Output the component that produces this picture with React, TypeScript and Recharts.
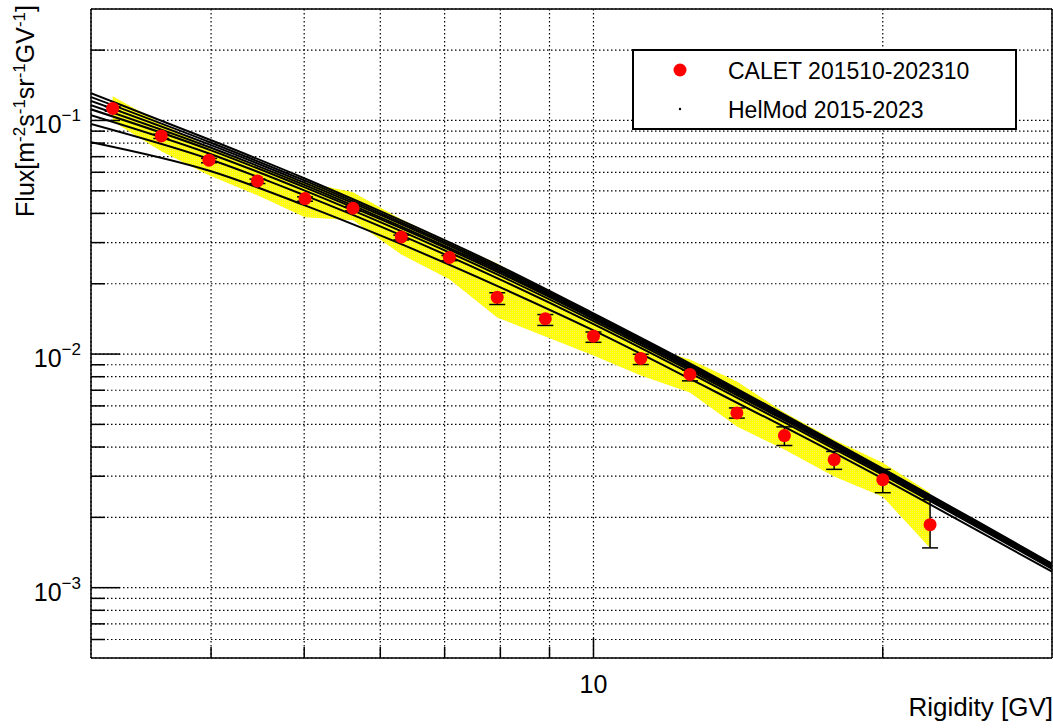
import React from 'react';
import {
  ComposedChart,
  Area,
  Line,
  Scatter,
  ErrorBar,
  XAxis,
  YAxis,
  CartesianGrid,
  ReferenceLine,
  Legend,
} from 'recharts';

const FONT = '"Liberation Sans", Arial, Helvetica, sans-serif';

// CALET 201510-202310, rigidity bin centres [GV]
const rigidity = [3.16, 3.55, 3.98, 4.47, 5.01, 5.62, 6.31, 7.08, 7.94, 8.91, 10.0, 11.2, 12.6, 14.1, 15.8, 17.8, 20.0, 22.4];
const calFlux = [0.1126, 0.0859, 0.0676, 0.0551, 0.0463, 0.0421, 0.0317, 0.0259, 0.0175, 0.01416, 0.01193, 0.00958, 0.00818, 0.0056, 0.00448, 0.00353, 0.0029, 0.00186];
const errLow = [0.003, 0.0022, 0.0017, 0.0014, 0.0012, 0.0011, 0.0009, 0.0008, 0.0012, 0.0009, 0.0007, 0.00056, 0.0005, 0.00028, 0.00042, 0.00032, 0.00035, 0.00038];
const errHigh = [0.002, 0.0015, 0.0012, 0.001, 0.0008, 0.0008, 0.0006, 0.0005, 0.0008, 0.0006, 0.0005, 0.0004, 0.00035, 0.00028, 0.0004, 0.0003, 0.00031, 0.00052];
// systematic band
const sysLow = [0.0993, 0.0739, 0.0583, 0.0478, 0.0385, 0.0374, 0.0267, 0.0209, 0.01435, 0.0119, 0.00987, 0.0081, 0.00685, 0.0049, 0.0039, 0.00299, 0.00245, 0.00148];
const sysHigh = [0.127, 0.0974, 0.0768, 0.0637, 0.0544, 0.0493, 0.0378, 0.0301, 0.0244, 0.0189, 0.01464, 0.011, 0.00948, 0.00763, 0.00562, 0.0043, 0.00343, 0.00255];

// HelMod model curves
const helmodR = [3, 4, 5, 6, 8, 10, 13, 16, 20, 25, 30];
const helmod1 = [0.1309, 0.0823, 0.0566, 0.0409, 0.02374, 0.01493, 0.00851, 0.00535, 0.00323, 0.001935, 0.001266];
const helmod2 = [0.126, 0.0803, 0.0554, 0.0401, 0.02334, 0.01472, 0.00841, 0.0053, 0.00321, 0.001922, 0.001259];
const helmod3 = [0.1213, 0.0784, 0.0542, 0.0394, 0.02295, 0.01453, 0.00831, 0.00525, 0.00318, 0.001909, 0.00125];
const helmod4 = [0.1163, 0.0764, 0.053, 0.0385, 0.02257, 0.01432, 0.0082, 0.0052, 0.00315, 0.001893, 0.001242];
const helmod5 = [0.1116, 0.0745, 0.0518, 0.0378, 0.02217, 0.01413, 0.0081, 0.00514, 0.00313, 0.001879, 0.001234];
const helmod6 = [0.1053, 0.0717, 0.0502, 0.0367, 0.02161, 0.01384, 0.00795, 0.00507, 0.00309, 0.001858, 0.001222];
const helmod7 = [0.0965, 0.0679, 0.0479, 0.0352, 0.02084, 0.01344, 0.00775, 0.00496, 0.00304, 0.001829, 0.001205];
const helmod8 = [0.0807, 0.0606, 0.0434, 0.0322, 0.0193, 0.01263, 0.00734, 0.00475, 0.00293, 0.001771, 0.00117];

// axes
const xDomain = [3, 30];
const yDomain = [5e-4, 0.3];
const xTicks = [4, 5, 6, 7, 8, 9, 10, 20];
const xLabelled = [10];
const yTicks = [
  6e-4, 7e-4, 8e-4, 9e-4,
  1e-3, 2e-3, 3e-3, 4e-3, 5e-3, 6e-3, 7e-3, 8e-3, 9e-3,
  0.01, 0.02, 0.03, 0.04, 0.05, 0.06, 0.07, 0.08, 0.09,
  0.1, 0.2,
];
const yDecades = [0.001, 0.01, 0.1];
const yExponents = ['\u22123', '\u22122', '\u22121'];

const dataLabel = 'CALET 201510-202310';
const modelLabel = 'HelMod 2015-2023';

const chartData = rigidity.map((r, i) => ({
  r,
  flux: calFlux[i],
  err: [errLow[i], errHigh[i]],
  band: [sysLow[i], sysHigh[i]],
}));

const helmodCurves = [helmod1, helmod2, helmod3, helmod4, helmod5, helmod6, helmod7, helmod8].map((curve) =>
  helmodR.map((r, i) => ({ r, flux: curve[i] })),
);

const XTick = (props: any) => {
  const { x, y, payload } = props;
  const major = xLabelled.includes(payload.value);
  return (
    <g>
      <line x1={x} x2={x} y1={y} y2={y - (major ? 20 : 11)} stroke="#000" strokeWidth={1.5} />
      {major && (
        <text x={x} y={y + 35} textAnchor="middle" fontSize={25} fontFamily={FONT} fill="#000">
          {payload.value}
        </text>
      )}
    </g>
  );
};

const YTick = (props: any) => {
  const { x, y, payload } = props;
  const idx = yDecades.indexOf(payload.value);
  const major = idx >= 0;
  return (
    <g>
      <line x1={x} x2={x + (major ? 29 : 14)} y1={y} y2={y} stroke="#000" strokeWidth={1.5} />
      {major && (
        <text x={x - 10} y={y + 13} textAnchor="end" fontSize={25} fontFamily={FONT} fill="#000">
          10
          <tspan dy={-12} fontSize={17}>
            {yExponents[idx]}
          </tspan>
        </text>
      )}
    </g>
  );
};

const YTitle = (props: any) => {
  const { x, y } = props.viewBox;
  const sup = (s: string) => (
    <tspan dy={-9} fontSize={17}>{s}</tspan>
  );
  return (
    <text
      transform={`translate(${x + 34},${y - 4}) rotate(-90)`}
      textAnchor="end"
      fontSize={25}
      fontFamily={FONT}
      fill="#000"
    >
      Flux[m{sup('-2')}
      <tspan dy={9}>s</tspan>
      {sup('-1')}
      <tspan dy={9}>sr</tspan>
      {sup('-1')}
      <tspan dy={9}>GV</tspan>
      {sup('-1')}
      <tspan dy={9}>]</tspan>
    </text>
  );
};

const XTitle = (props: any) => {
  const { x, y, width } = props.viewBox;
  return (
    <text x={x + width + 1} y={y + 58} textAnchor="end" fontSize={26} fontFamily={FONT} fill="#000">
      Rigidity [GV]
    </text>
  );
};

const LegendBox = () => (
  <svg width={385} height={81} style={{ display: 'block' }}>
    <rect x={1} y={1} width={383} height={79} fill="#fff" stroke="#000" strokeWidth={2} />
    <circle cx={48} cy={21} r={6.5} fill="#ff0000" />
    <text x={96} y={30} fontSize={23} fontFamily={FONT} fill="#000">
      {dataLabel}
    </text>
    <circle cx={48} cy={60} r={1.2} fill="#000" />
    <text x={96} y={69} fontSize={23} fontFamily={FONT} fill="#000">
      {modelLabel}
    </text>
  </svg>
);

export default function App() {
  return (
    <div style={{ position: 'absolute', left: 0, top: 0, width: 1053, height: 728, background: '#fff' }}>
      <ComposedChart width={1053} height={728} data={chartData} margin={{ top: 9, right: 1, bottom: 0, left: 0 }}>
        <defs>
          <pattern id="sysHatch" patternUnits="userSpaceOnUse" width={2} height={2}>
            <rect width={2} height={2} fill="#ffff00" />
            <rect width={1} height={1} fill="#f2f25a" />
          </pattern>
        </defs>
        <CartesianGrid stroke="#000" strokeDasharray="1.5 2.5" strokeWidth={1.2} />
        <XAxis
          dataKey="r"
          type="number"
          scale="log"
          domain={xDomain}
          ticks={xTicks}
          interval={0}
          allowDataOverflow
          height={70}
          tickSize={0}
          tickMargin={0}
          tickLine={false}
          axisLine={{ stroke: '#000', strokeWidth: 1.5 }}
          tick={(p: any) => <XTick {...p} />}
          label={{ content: (p: any) => <XTitle {...p} /> }}
        />
        <YAxis
          dataKey="flux"
          type="number"
          scale="log"
          domain={yDomain}
          ticks={yTicks}
          interval={0}
          allowDataOverflow
          width={91}
          tickSize={0}
          tickMargin={0}
          tickLine={false}
          axisLine={{ stroke: '#000', strokeWidth: 1.5 }}
          tick={(p: any) => <YTick {...p} />}
          label={{ content: (p: any) => <YTitle {...p} /> }}
        />
        <ReferenceLine y={yDomain[1]} stroke="#000" strokeWidth={1.5} />
        <ReferenceLine x={xDomain[1]} stroke="#000" strokeWidth={1.5} />

        {/* systematic uncertainty band */}
        <Area
          dataKey="band"
          type="linear"
          stroke="none"
          fill="url(#sysHatch)"
          fillOpacity={1}
          isAnimationActive={false}
          legendType="none"
        />

        {helmodCurves.map((curve, i) => (
          <Line
            key={i}
            data={curve}
            dataKey="flux"
            type="monotone"
            stroke="#000"
            strokeWidth={2}
            dot={false}
            isAnimationActive={false}
            legendType="none"
          />
        ))}

        <Scatter
          data={chartData}
          dataKey="flux"
          name={dataLabel}
          isAnimationActive={false}
          shape={(p: any) => <circle cx={p.cx} cy={p.cy} r={6.5} fill="#ff0000" />}
        >
          <ErrorBar dataKey="err" direction="y" width={8} stroke="#000" strokeWidth={1.5} />
        </Scatter>

        <Legend
          layout="vertical"
          align="center"
          verticalAlign="middle"
          wrapperStyle={{ left: 632, top: 49, width: 385, height: 81 }}
          content={() => <LegendBox />}
        />
      </ComposedChart>
    </div>
  );
}
